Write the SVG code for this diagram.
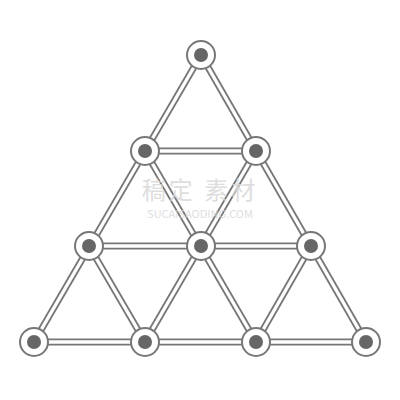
<svg xmlns="http://www.w3.org/2000/svg" width="400" height="400" viewBox="0 0 400 400">
<style>
.rodo{stroke:#777;stroke-width:7;stroke-linecap:butt}
.rodi{stroke:#fff;stroke-width:3.4;stroke-linecap:butt}
.ring{fill:#fff;stroke:#777;stroke-width:2}
.dot{fill:#666}
.wm{fill:#d9d9d9;font-family:"Noto Sans CJK SC","Noto Sans",sans-serif}
</style>
<rect width="400" height="400" fill="#fff"/>
<g id="connectors">
<g class="rodo">
<line x1="201" y1="55" x2="34" y2="342"/>
<line x1="201" y1="55" x2="366" y2="342"/>
<line x1="34" y1="342" x2="366" y2="342"/>
<line x1="145" y1="151" x2="256" y2="151"/>
<line x1="89" y1="246" x2="311" y2="246"/>
<line x1="145" y1="151" x2="256" y2="342"/>
<line x1="256" y1="151" x2="145" y2="342"/>
<line x1="89" y1="246" x2="145" y2="342"/>
<line x1="311" y1="246" x2="256" y2="342"/>
</g>
<g class="rodi">
<line x1="201" y1="55" x2="34" y2="342"/>
<line x1="201" y1="55" x2="366" y2="342"/>
<line x1="34" y1="342" x2="366" y2="342"/>
<line x1="145" y1="151" x2="256" y2="151"/>
<line x1="89" y1="246" x2="311" y2="246"/>
<line x1="145" y1="151" x2="256" y2="342"/>
<line x1="256" y1="151" x2="145" y2="342"/>
<line x1="89" y1="246" x2="145" y2="342"/>
<line x1="311" y1="246" x2="256" y2="342"/>
</g>
</g>
<g id="n1"><circle class="ring" cx="201" cy="55" r="14"/><circle class="dot" cx="201" cy="55" r="7"/></g>
<g id="n2"><circle class="ring" cx="145" cy="151" r="14"/><circle class="dot" cx="145" cy="151" r="7"/></g>
<g id="n3"><circle class="ring" cx="256" cy="151" r="14"/><circle class="dot" cx="256" cy="151" r="7"/></g>
<g id="n4"><circle class="ring" cx="89" cy="246" r="14"/><circle class="dot" cx="89" cy="246" r="7"/></g>
<g id="n5"><circle class="ring" cx="201" cy="246" r="14"/><circle class="dot" cx="201" cy="246" r="7"/></g>
<g id="n6"><circle class="ring" cx="311" cy="246" r="14"/><circle class="dot" cx="311" cy="246" r="7"/></g>
<g id="n7"><circle class="ring" cx="34" cy="342" r="14"/><circle class="dot" cx="34" cy="342" r="7"/></g>
<g id="n8"><circle class="ring" cx="145" cy="342" r="14"/><circle class="dot" cx="145" cy="342" r="7"/></g>
<g id="n9"><circle class="ring" cx="256" cy="342" r="14"/><circle class="dot" cx="256" cy="342" r="7"/></g>
<g id="n10"><circle class="ring" cx="366" cy="342" r="14"/><circle class="dot" cx="366" cy="342" r="7"/></g>
<g id="watermark" opacity="0.85">
<text class="wm" x="200" y="199" font-size="24" text-anchor="middle" letter-spacing="3">稿定 素材</text>
<text class="wm" x="200" y="218" font-size="11" text-anchor="middle">SUCAISAODING.COM</text>
</g>
</svg>
